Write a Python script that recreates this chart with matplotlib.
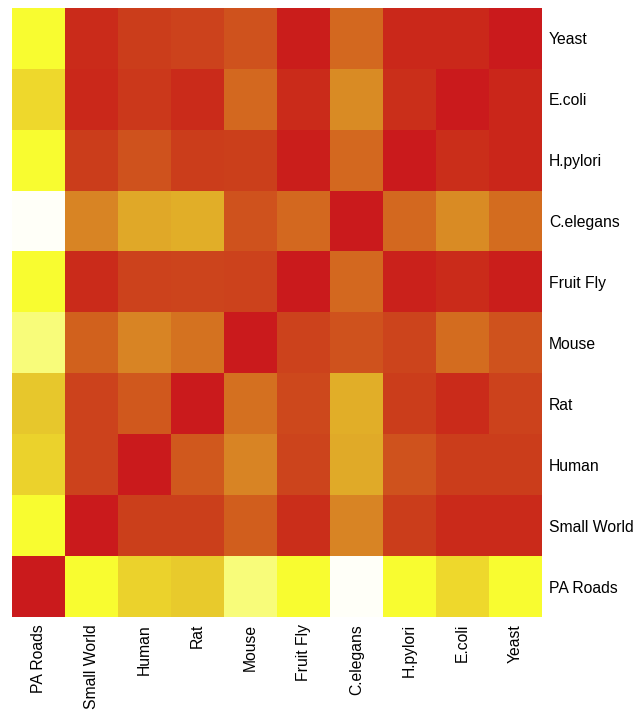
"""Distance heatmap between networks (red = similar, white = dissimilar)."""
import numpy as np
import matplotlib
matplotlib.use("Agg")
import matplotlib.pyplot as plt
from matplotlib.colors import LinearSegmentedColormap

col_labels = ["PA Roads", "Small World", "Human", "Rat", "Mouse",
              "Fruit Fly", "C.elegans", "H.pylori", "E.coli", "Yeast"]
row_labels = ["Yeast", "E.coli", "H.pylori", "C.elegans", "Fruit Fly",
              "Mouse", "Rat", "Human", "Small World", "PA Roads"]

# one row per network, top to bottom, columns in col_labels order
yeast      = [0.80, 0.10, 0.18, 0.20, 0.25, 0.02, 0.32, 0.08, 0.08, 0.00]
ecoli      = [0.70, 0.08, 0.16, 0.10, 0.32, 0.10, 0.42, 0.12, 0.00, 0.07]
hpylori    = [0.80, 0.18, 0.25, 0.18, 0.19, 0.03, 0.32, 0.00, 0.11, 0.07]
celegans   = [1.00, 0.40, 0.50, 0.52, 0.25, 0.32, 0.00, 0.32, 0.42, 0.33]
fruitfly   = [0.80, 0.10, 0.20, 0.21, 0.20, 0.00, 0.32, 0.04, 0.10, 0.03]
mouse      = [0.88, 0.30, 0.40, 0.35, 0.00, 0.20, 0.25, 0.21, 0.33, 0.25]
rat        = [0.62, 0.20, 0.27, 0.00, 0.34, 0.22, 0.52, 0.18, 0.10, 0.20]
human      = [0.67, 0.20, 0.00, 0.27, 0.40, 0.21, 0.51, 0.25, 0.18, 0.18]
smallworld = [0.80, 0.00, 0.19, 0.19, 0.29, 0.11, 0.40, 0.18, 0.09, 0.09]
paroads    = [0.00, 0.80, 0.67, 0.63, 0.88, 0.80, 1.00, 0.80, 0.70, 0.80]

data = np.array([yeast, ecoli, hpylori, celegans, fruitfly,
                 mouse, rat, human, smallworld, paroads])

cmap = LinearSegmentedColormap.from_list("heat", [
    (0.00, "#CA1A1C"), (0.10, "#CA2C1A"), (0.20, "#CC421C"),
    (0.30, "#D2621E"), (0.40, "#D88424"), (0.50, "#E0A828"),
    (0.60, "#E6C42C"), (0.70, "#EED82C"), (0.80, "#F8FC30"),
    (0.88, "#F8FC78"), (1.00, "#FFFFF8")])

plt.rcParams["font.family"] = ["Liberation Sans", "DejaVu Sans"]

fig = plt.figure(figsize=(6.35, 7.1), dpi=100)
ax = fig.add_axes([12 / 635, 1 - 617 / 710, 530 / 635, 609 / 710])
ax.imshow(data, cmap=cmap, vmin=0, vmax=1, aspect="auto", interpolation="nearest")

ax.set_xticks(range(len(col_labels)))
ax.set_xticklabels(col_labels, rotation=90, fontsize=11.3)
ax.set_yticks(range(len(row_labels)))
ax.set_yticklabels(row_labels, fontsize=11.3)
ax.yaxis.tick_right()
ax.tick_params(axis="y", length=0, pad=5)
ax.tick_params(axis="x", length=0, pad=5)
for s in ax.spines.values():
    s.set_visible(False)

fig.savefig("out.png", dpi=100)
